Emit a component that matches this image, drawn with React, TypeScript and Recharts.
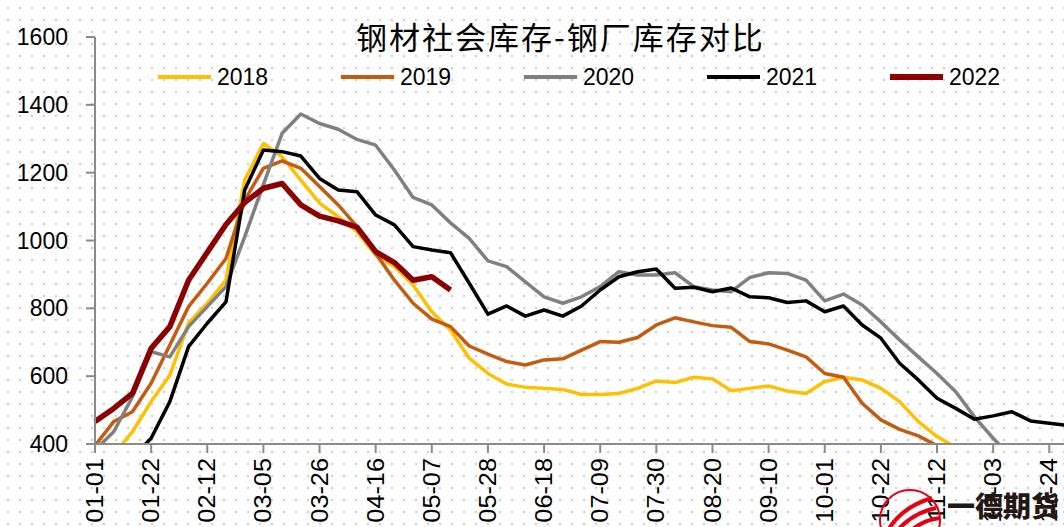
import React from 'react';
import { LineChart, Line, XAxis, YAxis, Legend } from 'recharts';

const categories = [
  '01-01', '01-08', '01-15', '01-22', '01-29', '02-05', '02-12', '02-19', '02-26', '03-05',
  '03-12', '03-19', '03-26', '04-02', '04-09', '04-16', '04-23', '04-30', '05-07', '05-14',
  '05-21', '05-28', '06-04', '06-11', '06-18', '06-25', '07-02', '07-09', '07-16', '07-23',
  '07-30', '08-06', '08-13', '08-20', '08-27', '09-03', '09-10', '09-17', '09-24', '10-01',
  '10-08', '10-15', '10-22', '10-29', '11-05', '11-12', '11-19', '11-26', '12-03', '12-10',
  '12-17', '12-24', '12-31',
];

const s2018 = [
  340, 370, 436, 525, 603, 756, 815, 883, 1178, 1286, 1247, 1178, 1110, 1070, 1026, 957, 923,
  869, 790, 736, 653, 608, 577, 567, 564, 561, 546, 546, 549, 564, 586, 581, 597, 592, 557,
  564, 571, 556, 549, 584, 597, 589, 564, 525, 466, 422, 390,
];
const s2019 = [
  395, 466, 495, 579, 692, 805, 874, 947, 1119, 1213, 1235, 1213, 1159, 1105, 1041, 962, 883,
  815, 768, 746, 689, 665, 643, 633, 648, 651, 677, 702, 700, 714, 751, 772, 760, 749, 744,
  702, 695, 677, 657, 608, 597, 520, 471, 443, 424, 395, 370,
];
const s2020 = [
  382, 436, 539, 672, 657, 746, 805, 864, 1011, 1165, 1316, 1373, 1345, 1328, 1298, 1281, 1208,
  1127, 1105, 1052, 1006, 940, 923, 878, 834, 815, 834, 864, 908, 898, 898, 905, 864, 854, 849,
  891, 905, 903, 883, 822, 842, 810, 760, 707, 657, 608, 554, 480, 417, 360,
];
const s2021 = [
  320, 340, 360, 417, 525, 687, 756, 819, 1149, 1267, 1262, 1249, 1183, 1149, 1144, 1075, 1046,
  982, 972, 964, 874, 783, 807, 777, 795, 777, 807, 854, 893, 908, 916, 859, 862, 849, 860,
  834, 831, 817, 822, 790, 807, 751, 712, 638, 589, 535, 505, 473, 483, 495, 468, 461, 455,
];
const s2022 = [
  466, 505, 549, 682, 746, 883, 965, 1047, 1112, 1154, 1168, 1105, 1072, 1058, 1039, 967, 935,
  883, 893, 854,
];

const yTicks = [400, 600, 800, 1000, 1200, 1400, 1600];
const seriesNames = ['2018', '2019', '2020', '2021', '2022'];
const seriesValues = [s2018, s2019, s2020, s2021, s2022];

const seriesStyle: Record<string, { color: string; width: number }> = {
  '2018': { color: '#FFC000', width: 3.5 },
  '2019': { color: '#C55A11', width: 3.5 },
  '2020': { color: '#808080', width: 3.5 },
  '2021': { color: '#000000', width: 3.5 },
  '2022': { color: '#8B0000', width: 5.5 },
};

const data = categories.map((c, i) => {
  const row: Record<string, string | number | null> = { date: c };
  seriesNames.forEach((n, k) => {
    const v = seriesValues[k][i];
    row[n] = v === undefined ? null : v;
  });
  return row;
});

const FONT = '"Liberation Sans", Arial, sans-serif';

const XTick = (props: any) => {
  const { x, y, payload } = props;
  return (
    <text
      transform={`translate(${x},${y + 3}) rotate(-90) scale(1.1,1)`}
      textAnchor="end"
      dominantBaseline="central"
      fontSize={23}
      fontFamily={FONT}
      fill="#000"
    >
      {payload.value}
    </text>
  );
};

const renderLegend = () => (
  <div style={{ position: 'relative', height: 30, width: 1064 }}>
    {seriesNames.map((n, i) => (
      <div
        key={n}
        style={{
          position: 'absolute',
          left: 158 + i * 183,
          top: 0,
          height: 30,
          display: 'flex',
          alignItems: 'center',
        }}
      >
        <div style={{ width: 53, height: seriesStyle[n].width + 0.5, background: seriesStyle[n].color }} />
        <span style={{ marginLeft: 6, fontSize: 23, fontFamily: FONT, color: '#000' }}>{n}</span>
      </div>
    ))}
  </div>
);

export default function App() {
  return (
    <div
      style={{
        position: 'absolute',
        left: 0,
        top: 0,
        width: 1064,
        height: 527,
        overflow: 'hidden',
        backgroundColor: '#ffffff',
        backgroundImage: 'radial-gradient(circle, #cfcfcf 1.1px, rgba(255,255,255,0) 1.3px)',
        backgroundSize: '12px 12px',
        backgroundPosition: '2px 2px',
      }}
    >
      <div
        style={{
          position: 'absolute',
          left: 356,
          top: 13,
          fontSize: 31,
          letterSpacing: 2,
          fontFamily: '"Noto Sans CJK SC", sans-serif',
          color: '#000',
          whiteSpace: 'nowrap',
          zIndex: 2,
        }}
      >
        钢材社会库存-钢厂库存对比
      </div>
      <LineChart
        width={1090}
        height={527}
        data={data}
        margin={{ top: 37, right: 22, left: 0, bottom: 0 }}
      >
        <XAxis
          dataKey="date"
          interval={2}
          height={83}
          tick={<XTick />}
          tickSize={9}
          axisLine={{ stroke: '#8a8a8a', strokeWidth: 2 }}
          tickLine={{ stroke: '#8a8a8a', strokeWidth: 2 }}
        />
        <YAxis
          domain={[400, 1600]}
          ticks={yTicks}
          allowDataOverflow
          width={95}
          tickSize={9}
          tickMargin={18}
          tick={{ fontSize: 23, fill: '#000', fontFamily: FONT }}
          axisLine={{ stroke: '#8a8a8a', strokeWidth: 2 }}
          tickLine={{ stroke: '#8a8a8a', strokeWidth: 2 }}
        />
        <Legend
          layout="horizontal"
          verticalAlign="middle"
          align="center"
          content={renderLegend}
          wrapperStyle={{ top: 62, left: 0, width: 1064, height: 30 }}
        />
        {seriesNames.map((n) => (
          <Line
            key={n}
            type="linear"
            dataKey={n}
            name={n}
            stroke={seriesStyle[n].color}
            strokeWidth={seriesStyle[n].width}
            dot={false}
            activeDot={false}
            connectNulls={false}
            isAnimationActive={false}
            strokeLinejoin="round"
          />
        ))}
      </LineChart>
      <svg
        width={80}
        height={60}
        style={{ position: 'absolute', left: 872, top: 484 }}
      >
        <circle cx={38} cy={36} r={30} fill="none" stroke="#E60012" strokeWidth={2} />
        <path d="M14 50 C 24 30, 40 20, 60 14" fill="none" stroke="#E60012" strokeWidth={4} />
        <path d="M18 56 C 30 38, 44 28, 64 24" fill="none" stroke="#E60012" strokeWidth={4} />
        <path d="M24 62 C 36 46, 50 36, 68 34" fill="none" stroke="#E60012" strokeWidth={4} />
      </svg>
      <div
        style={{
          position: 'absolute',
          left: 947,
          top: 488,
          fontSize: 28,
          fontWeight: 900,
          fontFamily: '"Noto Sans CJK SC", sans-serif',
          color: '#231815',
          whiteSpace: 'nowrap',
          lineHeight: '34px',
        }}
      >
        一德期货
      </div>
    </div>
  );
}
